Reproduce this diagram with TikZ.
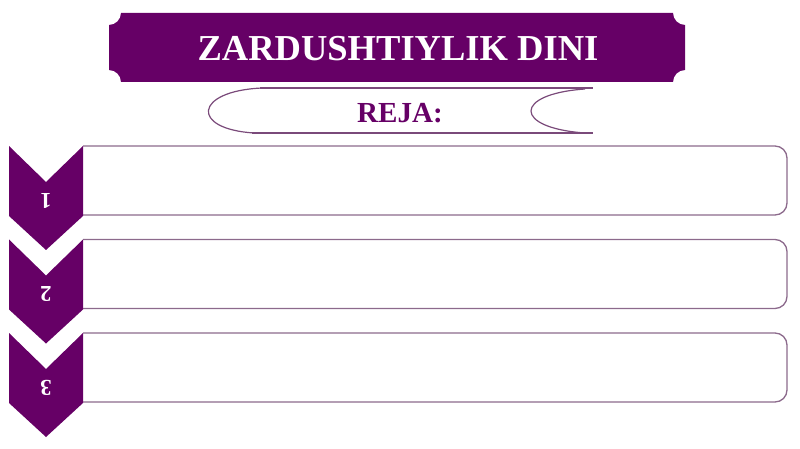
\documentclass[tikz,border=0pt]{standalone}
\usepackage{fontspec}
\setmainfont{Liberation Serif}
\usepackage{tikz}
\usetikzlibrary{calc}

\definecolor{plum}{HTML}{660066}
\definecolor{plumline}{HTML}{8C6A8C}
\definecolor{rejaline}{HTML}{7A4A7A}

\tikzset{
    chevron/.style={fill=plum, draw=none},
    itembox/.style={draw=plumline, line width=1pt, rounded corners=9pt},
    numlabel/.style={text=white, font=\fontsize{17}{19}\selectfont\bfseries, rotate=180}
}

\begin{document}
\begin{tikzpicture}[x=0.75pt, y=-0.75pt]
        \def\r{12}   % radius of banner corner notches
        \def\w{37}   % half width of chevron
        \def\d{36}   % depth of chevron notch

        \useasboundingbox (0,0) rectangle (800,449);

        % Banner corners
        \coordinate (TL) at (109, 13);
        \coordinate (TR) at (685, 13);
        \coordinate (BR) at (685, 82);
        \coordinate (BL) at (109, 82);

        % Draw the title banner with notched corners
        \fill[plum] ($(TL)+(\r,0)$) -- ($(TR)-(\r,0)$)
            arc[start angle=180, end angle=90, radius=\r]
            -- ($(BR)-(0,\r)$)
            arc[start angle=270, end angle=180, radius=\r]
            -- ($(BL)+(\r,0)$)
            arc[start angle=360, end angle=270, radius=\r]
            -- ($(TL)+(0,\r)$)
            arc[start angle=90, end angle=0, radius=\r]
            -- cycle;
        \node[text=white, font=\fontsize{27.4}{30}\selectfont\bfseries] (title) at (398, 49) {ZARDUSHTIYLIK DINI};

        % Draw the plan scroll
        \draw[rejaline, line width=0.9pt] (260, 88) -- (593, 88);
        \draw[rejaline, line width=0.9pt] (252, 133) -- (593, 133);
        \draw[rejaline, line width=0.9pt] (262, 88) .. controls (194, 91) and (190, 129) .. (254, 133);
        \draw[rejaline, line width=0.9pt] (585, 89) .. controls (513, 94) and (513, 128) .. (585, 133);
        \node[text=plum, font=\fontsize{21.8}{24}\selectfont\bfseries] (reja) at (400, 113) {REJA:};

        % Draw the numbered items
        \foreach \i/\y in {1/146, 2/239.5, 3/333} {
            \draw[itembox] (83, \y) -- (787, \y) -- (787, \y+69) -- (83, \y+69);
            \fill[chevron] (46-\w, \y) -- (46, \y+\d) -- (46+\w, \y) -- (46+\w, \y+70)
                -- (46, \y+104) -- (46-\w, \y+70) -- cycle;
            \node[numlabel] (num\i) at (46, \y+55) {\i};
        }

      \end{tikzpicture}
\end{document}
